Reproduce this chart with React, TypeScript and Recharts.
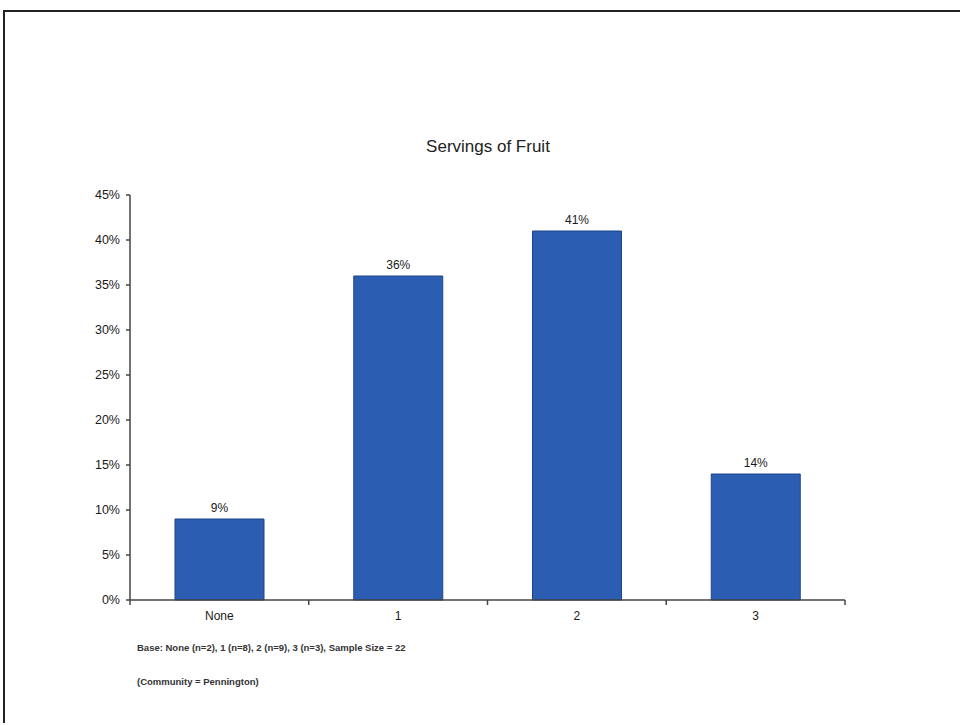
import { BarChart, Bar, XAxis, YAxis, LabelList } from "recharts";

const categories = ["None", "1", "2", "3"];
const percents = [9, 36, 41, 14];
const yTicks = [0, 5, 10, 15, 20, 25, 30, 35, 40, 45];

const data = categories.map((name, i) => ({ name, value: percents[i] }));

const font = "'Liberation Sans', Arial, sans-serif";

// category label at the centre, tick mark at the band edge (Excel style)
function CategoryTick(props: any) {
  const { x, y, payload, width, visibleTicksCount, index } = props;
  const band = width / visibleTicksCount;
  return (
    <g>
      {index === 0 && (
        <line x1={x - band / 2} x2={x - band / 2} y1={y} y2={y + 5} stroke="#444" strokeWidth={1.5} />
      )}
      <line x1={x + band / 2} x2={x + band / 2} y1={y} y2={y + 5} stroke="#444" strokeWidth={1.5} />
      <text x={x} y={y + 20} textAnchor="middle" fontSize={12} fill="#1a1a1a" fontFamily={font}>
        {payload.value}
      </text>
    </g>
  );
}

export default function App() {
  return (
    <div
      style={{
        position: "absolute",
        left: 0,
        top: 0,
        width: 960,
        height: 725,
        overflow: "hidden",
        background: "#fff",
        fontFamily: font,
      }}
    >
      <div
        style={{
          position: "absolute",
          left: 3,
          top: 10,
          width: 1000,
          height: 711,
          borderLeft: "2px solid #222",
          borderTop: "2px solid #222",
        }}
      />
      <div
        style={{
          position: "absolute",
          left: 0,
          width: 976,
          top: 137,
          textAlign: "center",
          fontSize: 17,
          color: "#222",
        }}
      >
        Servings of Fruit
      </div>
      <BarChart
        width={960}
        height={725}
        data={data}
        margin={{ top: 195, right: 115, bottom: 95, left: 70 }}
        style={{ position: "absolute", left: 0, top: 0 }}
      >
        <XAxis
          dataKey="name"
          height={30}
          stroke="#444"
          strokeWidth={1.5}
          tickLine={false}
          tickSize={0}
          tick={<CategoryTick />}
          tickMargin={0}
          interval={0}
        />
        <YAxis
          domain={[0, 45]}
          ticks={yTicks}
          width={60}
          tickSize={4}
          tickMargin={6}
          tickFormatter={(v: number) => `${v}%`}
          tick={{ fontSize: 12.5, fill: "#1a1a1a", fontFamily: font }}
          stroke="#444"
          strokeWidth={1.5}
          interval={0}
        />
        <Bar
          dataKey="value"
          fill="#2B5EB2"
          stroke="#1d4488"
          barSize={89}
          isAnimationActive={false}
        >
          <LabelList
            dataKey="value"
            position="top"
            offset={7}
            formatter={(v: number) => `${v}%`}
            style={{ fontSize: 12, fill: "#1a1a1a", fontFamily: font }}
          />
        </Bar>
      </BarChart>
      <div
        style={{
          position: "absolute",
          left: 137,
          top: 642,
          fontSize: 9.5,
          fontWeight: "bold",
          color: "#333",
        }}
      >
        Base: None (n=2), 1 (n=8), 2 (n=9), 3 (n=3), Sample Size = 22
      </div>
      <div
        style={{
          position: "absolute",
          left: 137,
          top: 676,
          fontSize: 9.5,
          fontWeight: "bold",
          color: "#333",
        }}
      >
        (Community = Pennington)
      </div>
    </div>
  );
}
